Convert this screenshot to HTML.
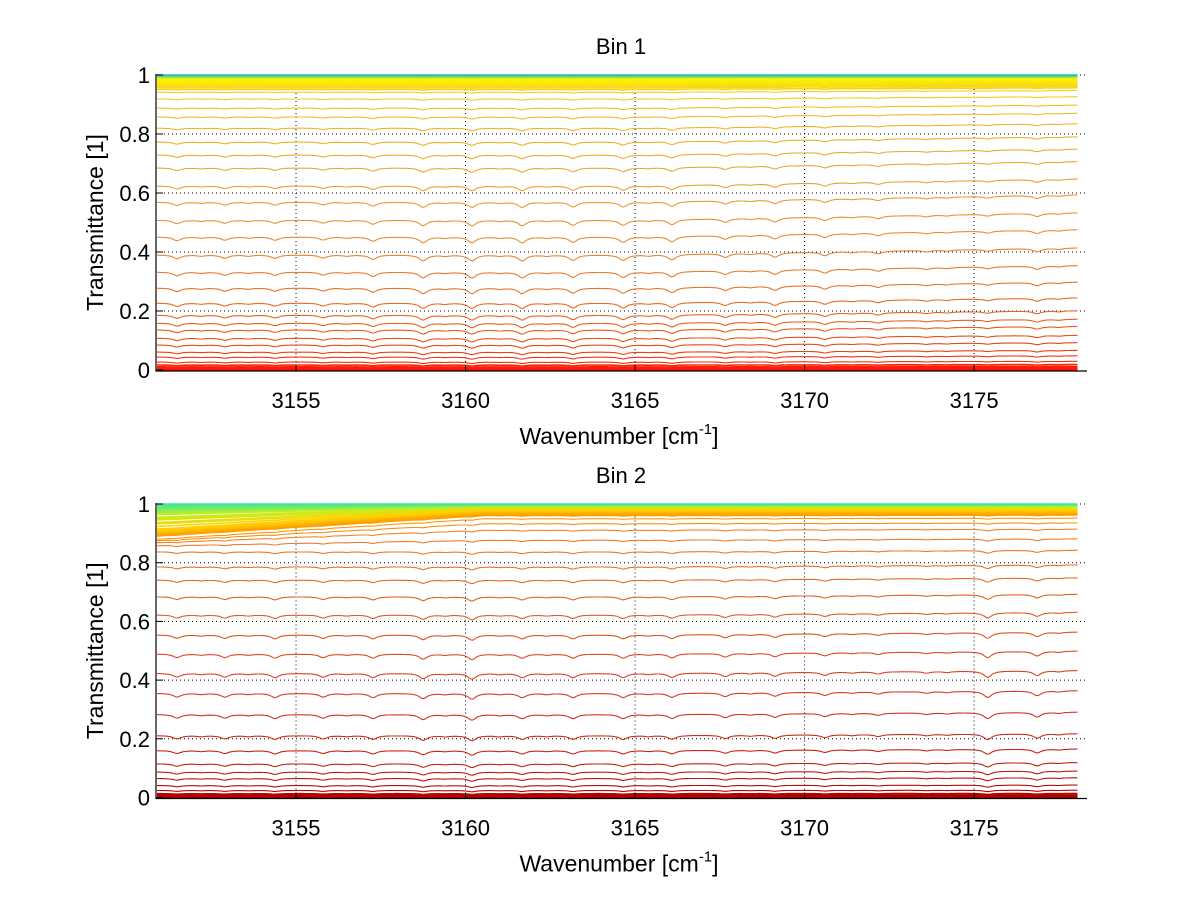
<!DOCTYPE html>
<html>
<head>
<meta charset="utf-8">
<style>
  html,body{margin:0;padding:0;background:#fff;}
  body{width:1200px;height:901px;overflow:hidden;font-family:"Liberation Sans",Arial,sans-serif;}
  svg text{font-family:"Liberation Sans",Arial,sans-serif;fill:#000;}
</style>
</head>
<body>
<svg id="fig" width="1200" height="901" viewBox="0 0 1200 901" xmlns="http://www.w3.org/2000/svg">
  <rect x="0" y="0" width="1200" height="901" fill="#fff"/>
  <g id="top-panel"></g>
  <g id="bot-panel"></g>
</svg>
<script>
// ---- data ----
const xTicks = [3155, 3160, 3165, 3170, 3175];
const yTicks = [0, 0.2, 0.4, 0.6, 0.8, 1];
const yTickLabels = ["0", "0.2", "0.4", "0.6", "0.8", "1"];
const xRange = [3150.87, 3178.33];
const dataRange = [3150.9, 3178.05];

// Baseline transmittance levels of each spectrum, Bin 1
const levelsBin1 = [1.0, 0.999, 0.998, 0.997, 0.995, 0.993, 0.991, 0.989, 0.987, 0.984, 0.981, 0.978, 0.975, 0.971, 0.967, 0.963, 0.958, 0.952,
  0.942, 0.919, 0.888, 0.858, 0.82, 0.773, 0.729, 0.685, 0.624, 0.569, 0.508, 0.451, 0.39, 0.332, 0.278, 0.227, 0.186, 0.159, 0.136, 0.108,
  0.085, 0.061, 0.044, 0.027, 0.017, 0.011, 0.007, 0.005, 0.003, 0.002, 0.001, 0.0];
// Baseline transmittance levels of each spectrum, Bin 2
const levelsBin2 = [1.0, 0.999, 0.998, 0.997, 0.996, 0.995, 0.994, 0.993, 0.992, 0.99, 0.989, 0.988, 0.986, 0.985, 0.983, 0.981, 0.98, 0.978, 0.976, 0.974, 0.972, 0.97, 0.968, 0.965,
  0.961, 0.95, 0.933, 0.911, 0.877, 0.837, 0.786, 0.741, 0.684, 0.622, 0.554, 0.489, 0.423, 0.355, 0.283, 0.211, 0.16, 0.115, 0.087,
  0.065, 0.041, 0.024, 0.013, 0.008, 0.005, 0.003, 0.002, 0.001, 0.0];

// Absorption line positions [cm^-1] and strengths
const linePos = [3151.49, 3152.9, 3154.38, 3155.8, 3157.27, 3158.75, 3160.19, 3161.67, 3163.17, 3164.65, 3166.09, 3167.66, 3169.13, 3170.6, 3172.17, 3173.6, 3175.4, 3176.86,
  3152.2, 3153.6, 3156.5, 3159.4, 3161.0, 3162.4, 3165.4, 3168.4, 3171.4, 3174.2, 3177.5];
const strengthBin1 = [0.035, 0.03, 0.03, 0.028, 0.04, 0.055, 0.055, 0.055, 0.05, 0.05, 0.05, 0.035, 0.04, 0.035, 0.025, 0.015, 0.018, 0.03,
  0.01, 0.01, 0.01, 0.01, 0.01, 0.01, 0.01, 0.01, 0.01, 0.01, 0.01];
const strengthBin2 = [0.035, 0.035, 0.04, 0.035, 0.04, 0.05, 0.055, 0.04, 0.04, 0.04, 0.04, 0.035, 0.035, 0.03, 0.02, 0.015, 0.06, 0.045,
  0.01, 0.01, 0.01, 0.01, 0.01, 0.01, 0.01, 0.01, 0.01, 0.01, 0.01];
// extra drop of the near-saturated spectra at low wavenumber (Bin 2)
const edgeDropBin2 = 0.07;
const edgeDropEnd = 3160.5;
// slight baseline rise at high wavenumber (additive, mid-level spectra)
const tiltBin1 = 0.025;
const tiltBin2 = 0.01;

// ---- drawing ----
const NS = "http://www.w3.org/2000/svg";
const X0 = 156, X1 = 1087;
function xS(v){ return X0 + (v - xRange[0]) / (xRange[1] - xRange[0]) * (X1 - X0); }

function lerpColor(stops, t){
  for (let i = 0; i < stops.length - 1; i++){
    const a = stops[i], b = stops[i+1];
    if (t <= a[0] && t >= b[0]){
      const f = (a[0] - t) / (a[0] - b[0] || 1);
      const c = a[1].map((ch, k) => Math.round(ch + (b[1][k] - ch) * f));
      return `rgb(${c[0]},${c[1]},${c[2]})`;
    }
  }
  const l = stops[stops.length-1][1];
  return `rgb(${l[0]},${l[1]},${l[2]})`;
}
const stopsTop = [[1.0,[40,190,200]],[0.996,[110,220,90]],[0.988,[250,245,0]],[0.96,[248,215,20]],[0.85,[240,185,40]],[0.6,[232,160,48]],
  [0.35,[232,128,48]],[0.15,[232,96,32]],[0.03,[240,50,16]],[0.0,[255,20,0]]];
const stopsBot = [[1.0,[60,230,160]],[0.992,[190,240,30]],[0.982,[255,210,0]],[0.965,[255,160,0]],[0.9,[240,128,48]],[0.7,[228,100,44]],
  [0.5,[220,76,36]],[0.3,[210,56,32]],[0.1,[192,32,16]],[0.0,[176,0,0]]];

function absorb(v, strengths){
  let a = 0;
  for (let i = 0; i < linePos.length; i++){
    const d = (v - linePos[i]) / 0.14;
    a += strengths[i] / (1 + d*d);
  }
  return a;
}

function drawPanel(g, cfg){
  const yS = T => cfg.y0 - T * (cfg.y0 - cfg.y1);
  xTicks.forEach(t => {
    const l = document.createElementNS(NS, "line");
    
    
    l.setAttribute("x1", xS(t)); l.setAttribute("x2", xS(t));
    l.setAttribute("y1", yS(0)); l.setAttribute("y2", yS(1));
    l.setAttribute("stroke", "#000"); l.setAttribute("stroke-width", "1"); l.setAttribute("stroke-dasharray", "1,3");
    g.appendChild(l);
  });
  yTicks.forEach(t => {
    if (t === 0) return;
    const l = document.createElementNS(NS, "line");
    
    
    l.setAttribute("x1", X0); l.setAttribute("x2", X1);
    l.setAttribute("y1", yS(t)); l.setAttribute("y2", yS(t));
    l.setAttribute("stroke", "#000"); l.setAttribute("stroke-width", "1"); l.setAttribute("stroke-dasharray", "1,3");
    g.appendChild(l);
  });
  const N = 560;
  for (let c = cfg.levels.length - 1; c >= 0; c--){
    const L = cfg.levels[c];
    const pts = [];
    for (let i = 0; i <= N; i++){
      const v = dataRange[0] + (dataRange[1] - dataRange[0]) * i / N;
      let T = L <= 0 ? 0 : Math.pow(L, 1 + absorb(v, cfg.strengths));
      if (v > 3165) T += cfg.tilt * 4 * L * (1 - L) * (v - 3165) / 13;
      if (cfg.edgeDrop){
        const w = Math.min(1, Math.max(0, (L - 0.85) / 0.1)) * Math.min(1, Math.max(0, (1 - L) / 0.02));
        const g2 = Math.max(0, (edgeDropEnd - v) / (edgeDropEnd - dataRange[0]));
        T -= cfg.edgeDrop * w * g2;
      }
      T = Math.min(1, T);
      pts.push(xS(v).toFixed(1) + "," + yS(T).toFixed(1));
    }
    const p = document.createElementNS(NS, "polyline");
    
    
    p.setAttribute("points", pts.join(" "));
    p.setAttribute("fill", "none");
    p.setAttribute("stroke", lerpColor(cfg.stops, L));
    p.setAttribute("stroke-width", L < 0.02 || L > 0.95 ? "1.6" : "1.1");
    g.appendChild(p);
  }
  const ax = document.createElementNS(NS, "path");
  
  
  ax.setAttribute("d", `M${X0},${cfg.y1-1} V${cfg.y0+1} H${X1}`);
  ax.setAttribute("stroke", "#000"); ax.setAttribute("fill", "none"); ax.setAttribute("stroke-width", "1.2");
  g.appendChild(ax);
  xTicks.forEach(t => {
    const tk = document.createElementNS(NS, "line");
    
    
    tk.setAttribute("x1", xS(t)); tk.setAttribute("x2", xS(t));
    tk.setAttribute("y1", cfg.y0 + 1); tk.setAttribute("y2", cfg.y0 - 5);
    tk.setAttribute("stroke", "#000");
    g.appendChild(tk);
    const tx = document.createElementNS(NS, "text");
    
    
    tx.setAttribute("x", xS(t)); tx.setAttribute("y", cfg.y0 + 38);
    tx.setAttribute("text-anchor", "middle"); tx.setAttribute("font-size", "22");
    tx.textContent = String(t);
    g.appendChild(tx);
  });
  yTicks.forEach((t, i) => {
    const tk = document.createElementNS(NS, "line");
    
    
    tk.setAttribute("x1", X0); tk.setAttribute("x2", X0 + 7);
    tk.setAttribute("y1", yS(t)); tk.setAttribute("y2", yS(t));
    tk.setAttribute("stroke", "#000");
    g.appendChild(tk);
    const tx = document.createElementNS(NS, "text");
    
    
    tx.setAttribute("x", 150); tx.setAttribute("y", yS(t) + 8);
    tx.setAttribute("text-anchor", "end"); tx.setAttribute("font-size", "22");
    tx.textContent = yTickLabels[i];
    g.appendChild(tx);
  });
  const ti = document.createElementNS(NS, "text");
  
  
  ti.setAttribute("x", 621); ti.setAttribute("y", cfg.y1 - 21);
  ti.setAttribute("text-anchor", "middle"); ti.setAttribute("font-size", "22");
  ti.textContent = cfg.title;
  g.appendChild(ti);
  const xl = document.createElementNS(NS, "text");
  
  
  xl.setAttribute("x", 619); xl.setAttribute("y", cfg.y0 + 74);
  xl.setAttribute("text-anchor", "middle"); xl.setAttribute("font-size", "23");
  xl.innerHTML = 'Wavenumber [cm<tspan font-size="15" dy="-10">-1</tspan><tspan dy="10">]</tspan>';
  g.appendChild(xl);
  const yl = document.createElementNS(NS, "text");
  
  
  const cy = (cfg.y0 + cfg.y1) / 2;
  yl.setAttribute("x", 103); yl.setAttribute("y", cy);
  yl.setAttribute("transform", `rotate(-90 103 ${cy})`);
  yl.setAttribute("text-anchor", "middle"); yl.setAttribute("font-size", "23");
  yl.textContent = "Transmittance [1]";
  g.appendChild(yl);
}

drawPanel(document.getElementById("top-panel"), {y0: 370, y1: 75, levels: levelsBin1, strengths: strengthBin1, stops: stopsTop, tilt: tiltBin1, edgeDrop: 0, title: "Bin 1"});
drawPanel(document.getElementById("bot-panel"), {y0: 797.5, y1: 504, levels: levelsBin2, strengths: strengthBin2, stops: stopsBot, tilt: tiltBin2, edgeDrop: edgeDropBin2, title: "Bin 2"});
</script>
</body>
</html>
